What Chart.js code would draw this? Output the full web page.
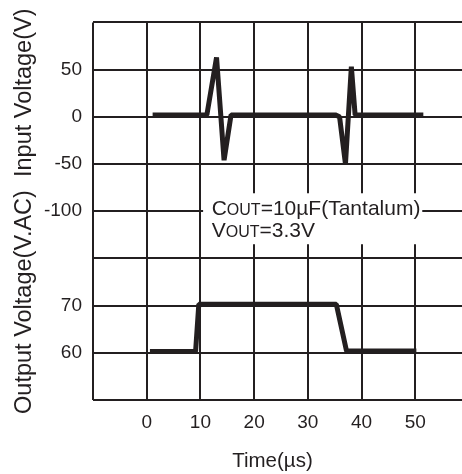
<!DOCTYPE html>
<html>
<head>
<meta charset="utf-8">
<script src="https://cdn.jsdelivr.net/npm/chart.js@4.4.0/dist/chart.umd.min.js"></script>
<style>
html, body { margin: 0; padding: 0; overflow: hidden; background: #fff; }
canvas { display: block; }
</style>
</head>
<body>
<canvas id="c" width="480" height="474"></canvas>
<script>
// ---- data ----
const inputTime    = [1.1, 11.2, 13.0, 14.4, 15.7, 35.1, 35.9, 37.0, 38.1, 38.8, 51.5];
const inputVoltage = [2,   2,    63,   -46,  2,    2,    0,    -50,  53,   2,    2];
const outputTime    = [0.6,  9.1,  9.7,  35.3, 37.2, 50.2];
const outputVoltage = [60.3, 60.3, 70.3, 70.3, 60.4, 60.4];

const timeTicks   = [0, 10, 20, 30, 40, 50];
const inputTicks  = [50, 0, -50, -100];
const outputTicks = [70, 60];

const yTitle = 'Output Voltage(V.AC)  Input Voltage(V)';
const xTitle = 'Time(µs)';

const INK = '#231f20';
const FONT = "'Liberation Sans', Arial, Helvetica, sans-serif";

const toPts = (xs, ys) => xs.map((x, i) => ({x, y: ys[i]}));

const annotation = {
  id: 'annotation',
  beforeDatasetsDraw(chart) {
    const {ctx, scales, chartArea} = chart;
    const xs = scales.x, yi = scales.yIn;
    const left = xs.getPixelForValue(10.5), right = xs.getPixelForValue(51.3);
    const top = yi.getPixelForValue(-81), bottom = yi.getPixelForValue(-135);
    ctx.save();
    ctx.fillStyle = '#fff';
    ctx.fillRect(left, top, right - left, bottom - top);
    ctx.fillStyle = INK;
    ctx.textBaseline = 'alphabetic';
    ctx.textAlign = 'left';
    const drawLine = (first, rest, x, y) => {
      ctx.font = `21px ${FONT}`;
      ctx.fillText(first, x, y);
      x += ctx.measureText(first).width;
      ctx.font = `16px ${FONT}`;
      ctx.fillText('OUT', x, y);
      x += ctx.measureText('OUT').width;
      ctx.font = `21px ${FONT}`;
      ctx.fillText(rest, x, y);
    };
    const tx = xs.getPixelForValue(12.1);
    drawLine('C', '=10µF(Tantalum)', tx, yi.getPixelForValue(-104));
    drawLine('V', '=3.3V', tx, yi.getPixelForValue(-127));
    ctx.restore();
  },
  afterDraw(chart) {
    const {ctx, chartArea} = chart;
    ctx.save();
    ctx.translate(25, (chartArea.top + chartArea.bottom) / 2);
    ctx.rotate(-Math.PI / 2);
    ctx.font = `23.5px ${FONT}`;
    ctx.fillStyle = INK;
    ctx.textAlign = 'center';
    ctx.textBaseline = 'middle';
    ctx.fillText(yTitle, 0, 0);
    ctx.restore();
  }
};

const gridOpts = { color: INK, lineWidth: 2, drawTicks: false };
const tickFont = { family: FONT, size: 19 };

new Chart(document.getElementById('c'), {
  type: 'line',
  data: {
    datasets: [
      { label: 'Input', data: toPts(inputTime, inputVoltage), yAxisID: 'yIn' },
      { label: 'Output', data: toPts(outputTime, outputVoltage), yAxisID: 'yOut' }
    ]
  },
  options: {
    responsive: false,
    animation: false,
    devicePixelRatio: 1,
    layout: { padding: { top: 22, right: 9, left: 0, bottom: 0 } },
    elements: {
      point: { radius: 0 },
      line: { borderColor: INK, borderWidth: 5, tension: 0, borderJoinStyle: 'bevel', fill: false }
    },
    plugins: {
      legend: { display: false },
      tooltip: { enabled: false },
      title: { display: false }
    },
    scales: {
      x: {
        type: 'linear',
        min: -10, max: 60,
        grid: gridOpts,
        border: { display: false },
        ticks: {
          stepSize: 10, padding: 11, color: INK, font: tickFont, maxRotation: 0,
          callback: v => timeTicks.includes(v) ? String(v) : ''
        },
        title: { display: true, text: xTitle + '\u00a0\u00a0\u00a0', color: INK, font: { family: FONT, size: 20.5 }, padding: { top: 0, bottom: 0 } },
        afterFit: s => { s.height = 74; }
      },
      yOut: {
        type: 'linear',
        position: 'left',
        stack: 'v',
        stackWeight: 3,
        min: 50, max: 80,
        grid: gridOpts,
        border: { display: false },
        ticks: {
          stepSize: 10, padding: 11, color: INK, font: tickFont,
          callback: v => outputTicks.includes(v) ? String(v) : ''
        },
        afterFit: s => { s.width = 93; }
      },
      yIn: {
        type: 'linear',
        position: 'left',
        stack: 'v',
        stackWeight: 5,
        min: -150, max: 100,
        grid: gridOpts,
        border: { display: false },
        ticks: {
          stepSize: 50, padding: 11, color: INK, font: tickFont,
          callback: v => inputTicks.includes(v) ? String(v) : ''
        },
        afterFit: s => { s.width = 93; }
      }
    }
  },
  plugins: [annotation]
});
</script>
</body>
</html>
